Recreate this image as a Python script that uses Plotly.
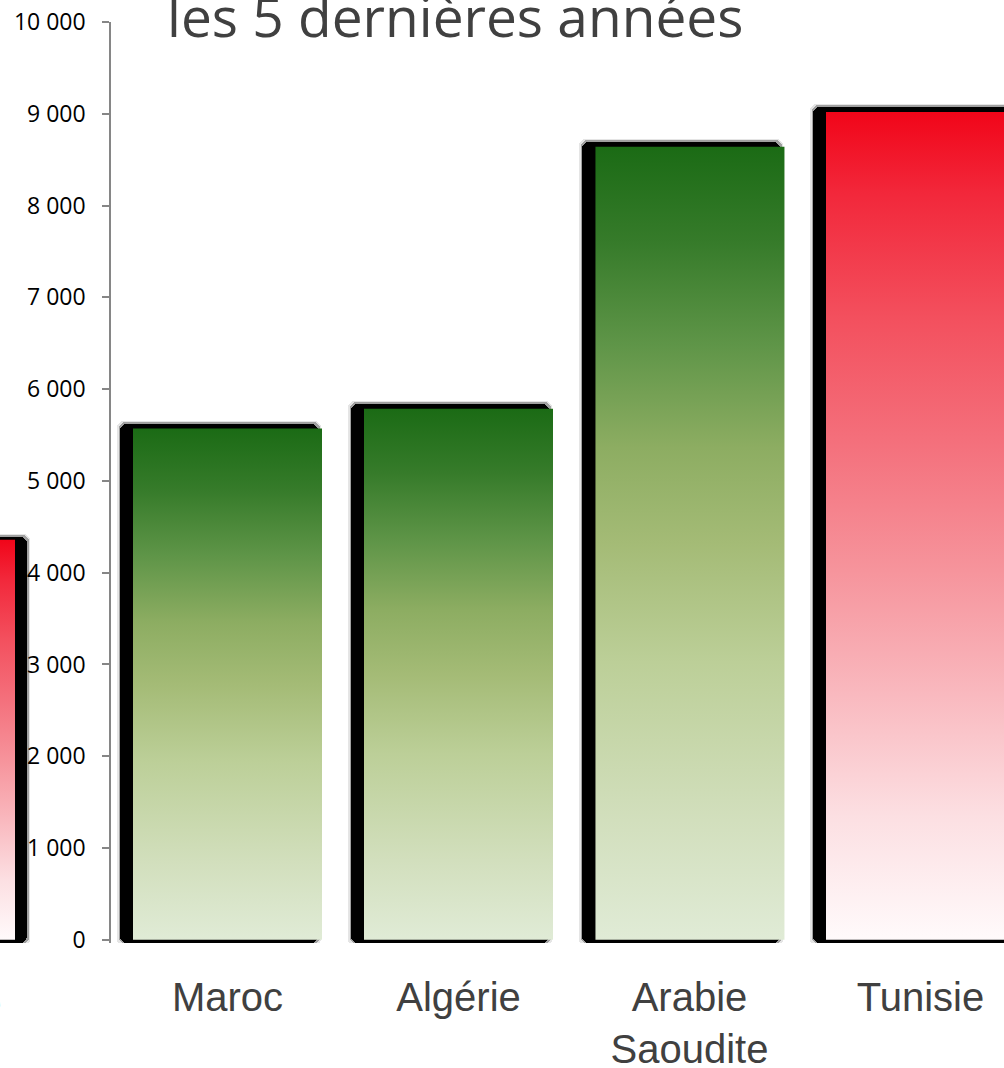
import plotly.graph_objects as go

# ---------------- data ----------------
countries = ["Tunisie", "Maroc", "Algérie", "Arabie<br>Saoudite", "Tunisie"]
values = [4360, 5570, 5785, 8640, 9020]
palette_keys = ["red", "green", "green", "green", "red"]
y_ticks = [0, 1000, 2000, 3000, 4000, 5000, 6000, 7000, 8000, 9000, 10000]
title_text = "les 5 dernières années"

# ---------------- style ----------------
W, H = 1004, 1068
slot_px = 231.0           # pixels per category slot
first_center_px = 227.5   # pixel of slot index 1
val_px = 0.0918           # pixels per value unit
bar_w = 189 / slot_px
slot_index = [0, 1, 2, 3, 4]
slot_shift = [-0.329, 0, 0, 0.002, 0]   # left bar belongs to a neighbouring panel
shadow_side = ["right", "left", "left", "left", "left"]

gradients = {
    "green": [[0.0, "#e0ebd6"], [0.15, "#d2dfbd"], [0.35, "#bccf98"], [0.5, "#a4bb76"],
              [0.62, "#8dad62"], [0.75, "#5f9548"], [0.88, "#367b2a"], [1.0, "#1b6b15"]],
    "red": [[0.0, "#fffafb"], [0.15, "#fcdfe2"], [0.3, "#f9b8be"], [0.45, "#f6939b"],
            [0.6, "#f4707c"], [0.75, "#f3505e"], [0.9, "#f2283b"], [1.0, "#f10519"]],
}

y_lo = -35
y_hi = 10000
top_px = 22
plot_h = (y_hi - y_lo) * val_px
bottom_margin = H - top_px - plot_h

x_lo = 1 - first_center_px / slot_px
x_hi = x_lo + W / slot_px

def px2x(p):
    return p / slot_px
def px2y(p):
    return p / val_px

fig = go.Figure()

# shadows (blurred black boxes)
for i, v in enumerate(values):
    c = slot_index[i] + slot_shift[i]
    l = c - bar_w / 2
    r = c + bar_w / 2
    if shadow_side[i] == "left":
        sl, sr = l - px2x(13), r - px2x(4)
        stop = v + px2y(5)
    else:
        sl, sr = l, r + px2x(12)
        stop = v + px2y(3)
    sbase = -px2y(3)
    for grow, col in [(3, "rgba(0,0,0,0.10)"), (1.5, "rgba(0,0,0,0.3)"), (0, "#000000")]:
        g = px2x(grow)
        fig.add_trace(go.Bar(
            x=[(sl + sr) / 2], y=[stop - sbase + 2 * px2y(grow)],
            base=[sbase - px2y(grow)], width=[sr - sl + 2 * g],
            marker=dict(color=col, line=dict(width=0), cornerradius=7),
            hoverinfo="skip", showlegend=False,
        ))

# gradient bars
for i, v in enumerate(values):
    c = slot_index[i] + slot_shift[i]
    l = c - bar_w / 2
    r = c + bar_w / 2
    fig.add_trace(go.Scatter(
        x=[l, r, r, l, l], y=[0, 0, v, v, 0],
        mode="lines", line=dict(width=0),
        fill="toself",
        fillgradient=dict(type="vertical", colorscale=gradients[palette_keys[i]]),
        hoverinfo="skip", showlegend=False,
    ))

label_font = dict(family="Liberation Sans, Arial", size=40, color="#404040")

fig.update_layout(
    width=W, height=H,
    margin=dict(l=0, r=0, t=top_px, b=bottom_margin, pad=0),
    paper_bgcolor="white", plot_bgcolor="white",
    barmode="overlay", bargap=0,
    showlegend=False,
    separators=", ",
    xaxis=dict(
        range=[x_lo, x_hi], domain=[0, 1],
        tickvals=slot_index[1:], ticktext=countries[1:],
        tickfont=label_font,
        ticks="outside", ticklen=19, tickcolor="rgba(0,0,0,0)",
        showline=False, showgrid=False, zeroline=False, fixedrange=True,
        automargin=False,
    ),
    yaxis=dict(
        range=[y_lo, y_hi],
        tickvals=y_ticks, tickformat=",",
        tickfont=dict(family="Open Sans", size=23, color="#000000"),
        ticks="outside", ticklen=7, tickcolor="#868686", tickwidth=1.5,
        showline=True, linecolor="#868686", linewidth=1.5,
        showgrid=False, zeroline=False,
        anchor="free", position=110 / W,
        ticklabelstandoff=12,
        automargin=False,
    ),
)

# label of the partially visible left category
fig.add_annotation(
    x=px2x(3) + x_lo, y=-(57 + 3) / plot_h, xref="x", yref="paper",
    xanchor="right", yanchor="middle", showarrow=False,
    text=countries[0], font=label_font,
)

# title (upper line lies outside the visible area)
fig.add_annotation(
    x=165 / W, xref="paper", xanchor="left",
    y=(top_px + plot_h - 55) / plot_h, yref="paper", yanchor="bottom",
    showarrow=False, text=title_text,
    font=dict(family="Open Sans", size=55, color="#404040"),
)

fig.write_html("out.html")
